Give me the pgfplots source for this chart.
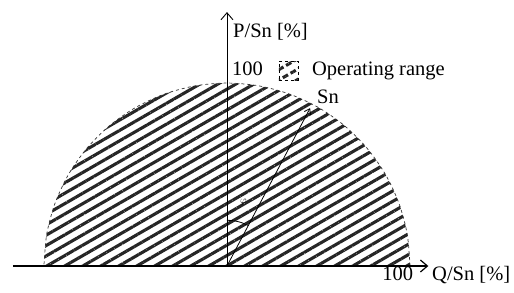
\documentclass[border=0pt]{standalone}
\usepackage{pgfplots}
\pgfplotsset{compat=1.18}
\usepackage{fontspec}
\setmainfont{Liberation Serif}
\usetikzlibrary{patterns.meta, arrows.meta}
\tikzset{lbl/.style={anchor=base west, inner sep=0pt, font=\fontsize{20.5}{23}\selectfont},
  hatch/.style={pattern={Lines[angle=30,distance=9pt,line width=3.1pt]}, pattern color=black!85}}
\begin{document}
\begin{tikzpicture}
\begin{axis}[
  scale only axis, width=514pt, height=293pt,
  xmin=-124, xmax=156.8, ymin=-14.75, ymax=145.4,
  axis lines=none, clip=false,
]
\path (axis cs:-124,-14.75) rectangle (axis cs:156.8,145.4);
% operating range (semicircle, radius 100 %)
\addplot[draw=none, hatch, smooth] coordinates {
 (100,0) (98.48,17.36) (93.97,34.20) (86.60,50.00) (76.60,64.28) (64.28,76.60)
 (50.00,86.60) (34.20,93.97) (17.36,98.48) (0,100) (-17.36,98.48) (-34.20,93.97)
 (-50.00,86.60) (-64.28,76.60) (-76.60,64.28) (-86.60,50.00) (-93.97,34.20)
 (-98.48,17.36) (-100,0)} \closedcycle;
\addplot[dashed, line width=0.7pt, black!80, smooth] coordinates {
 (100,0) (98.48,17.36) (93.97,34.20) (86.60,50.00) (76.60,64.28) (64.28,76.60)
 (50.00,86.60) (34.20,93.97) (17.36,98.48) (0,100) (-17.36,98.48) (-34.20,93.97)
 (-50.00,86.60) (-64.28,76.60) (-76.60,64.28) (-86.60,50.00) (-93.97,34.20)
 (-98.48,17.36) (-100,0)};
% axes
\addplot[line width=1.2pt, -{Straight Barb[length=7pt,width=12pt]}] coordinates {(-117,0) (110,0)};
\addplot[line width=0.9pt, -{Straight Barb[length=7pt,width=12pt]}] coordinates {(0,0) (0,138.8)};
% Sn vector and angle
\addplot[line width=0.8pt, -{Straight Barb[length=5pt,width=7pt]}] coordinates {(0,0) (45.4,86.3)};
\addplot[line width=0.8pt, smooth] coordinates {(0,25) (3.05,24.81) (6.05,24.26) (8.96,23.34) (11.74,22.07)};
\node[anchor=center, font=\fontsize{10}{12}\selectfont] at (axis cs:9,35) {$\varphi$};
% legend box
\addplot[dashed, line width=0.8pt, hatch] coordinates {(28.4,101.6) (38.8,101.6) (38.8,112) (28.4,112) (28.4,101.6)};
% labels
\node[lbl] at (axis cs:3.3,125.1) {P/Sn [\%]};
\node[lbl] at (axis cs:2.7,104.4) {100};
\node[lbl] at (axis cs:46.4,104.4) {Operating range};
\node[lbl] at (axis cs:49.2,89) {Sn};
\node[lbl] at (axis cs:84.8,-8) {100};
\node[lbl] at (axis cs:112,-8) {Q/Sn [\%]};
\end{axis}
\end{tikzpicture}
\end{document}
